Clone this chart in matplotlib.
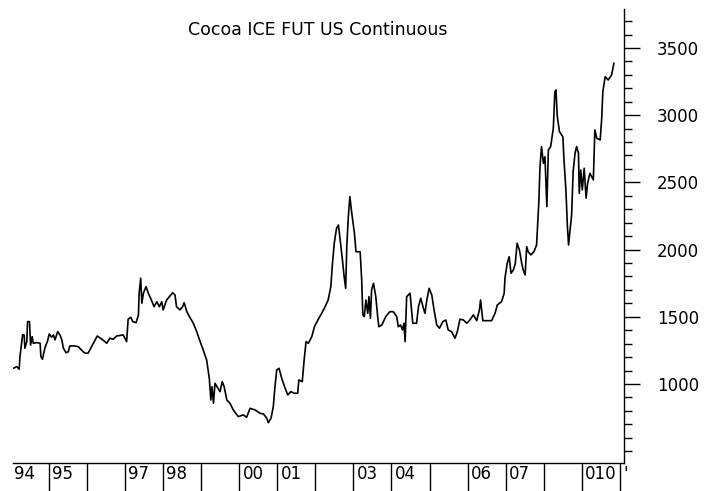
import matplotlib
matplotlib.use("Agg")
import matplotlib.pyplot as plt
from matplotlib.ticker import MultipleLocator, FixedLocator

# decimal year / price
years = [
    1994.08, 1994.17, 1994.23, 1994.25, 1994.32, 1994.36, 1994.38, 1994.43, 1994.45, 1994.50,
    1994.53, 1994.57, 1994.60, 1994.69, 1994.78, 1994.80, 1994.84, 1994.91, 1994.97, 1995.02,
    1995.08, 1995.13, 1995.17, 1995.24, 1995.30, 1995.35, 1995.39, 1995.46, 1995.52, 1995.56,
    1995.67, 1995.78, 1995.91, 1995.96, 1996.04, 1996.13, 1996.28, 1996.40, 1996.53, 1996.61,
    1996.70, 1996.79, 1996.96, 1997.05, 1997.09, 1997.16, 1997.21, 1997.30, 1997.36, 1997.38,
    1997.42, 1997.45, 1997.49, 1997.56, 1997.62, 1997.68, 1997.77, 1997.84, 1997.91, 1997.97,
    1998.01, 1998.10, 1998.26, 1998.32, 1998.36, 1998.45, 1998.52, 1998.56, 1998.63, 1998.71,
    1998.80, 1998.89, 1998.98, 1999.06, 1999.15, 1999.22, 1999.26, 1999.29, 1999.33, 1999.37,
    1999.50, 1999.56, 1999.61, 1999.68, 1999.76, 1999.85, 1999.98, 2000.11, 2000.20, 2000.29,
    2000.42, 2000.55, 2000.64, 2000.73, 2000.77, 2000.84, 2000.90, 2000.94, 2000.99, 2001.05,
    2001.12, 2001.21, 2001.28, 2001.36, 2001.45, 2001.54, 2001.57, 2001.66, 2001.71, 2001.76,
    2001.82, 2001.91, 2001.98, 2002.07, 2002.17, 2002.26, 2002.34, 2002.41, 2002.45, 2002.50,
    2002.56, 2002.61, 2002.65, 2002.71, 2002.76, 2002.80, 2002.83, 2002.87, 2002.91, 2002.96,
    2003.03, 2003.07, 2003.18, 2003.22, 2003.25, 2003.29, 2003.33, 2003.38, 2003.41, 2003.45,
    2003.48, 2003.53, 2003.59, 2003.64, 2003.67, 2003.75, 2003.85, 2003.96, 2004.05, 2004.14,
    2004.18, 2004.24, 2004.29, 2004.33, 2004.36, 2004.40, 2004.49, 2004.53, 2004.56, 2004.66,
    2004.71, 2004.77, 2004.84, 2004.88, 2004.93, 2004.99, 2005.06, 2005.12, 2005.19, 2005.26,
    2005.35, 2005.43, 2005.49, 2005.58, 2005.67, 2005.73, 2005.80, 2005.89, 2005.98, 2006.06,
    2006.15, 2006.24, 2006.31, 2006.34, 2006.40, 2006.50, 2006.63, 2006.72, 2006.78, 2006.89,
    2006.96, 2006.98, 2007.04, 2007.09, 2007.14, 2007.20, 2007.25, 2007.30, 2007.36, 2007.42,
    2007.46, 2007.51, 2007.55, 2007.59, 2007.66, 2007.74, 2007.81, 2007.87, 2007.90, 2007.94,
    2007.99, 2008.03, 2008.08, 2008.12, 2008.18, 2008.25, 2008.29, 2008.32, 2008.35, 2008.41,
    2008.50, 2008.53, 2008.58, 2008.62, 2008.65, 2008.69, 2008.73, 2008.77, 2008.82, 2008.86,
    2008.91, 2008.93, 2008.97, 2009.01, 2009.06, 2009.11, 2009.15, 2009.21, 2009.30, 2009.34,
    2009.39, 2009.48, 2009.52, 2009.55, 2009.61, 2009.69, 2009.78, 2009.84,
]
prices = [
    1117, 1129, 1110, 1203, 1365, 1365, 1266, 1315, 1464, 1464,
    1290, 1352, 1303, 1308, 1303, 1203, 1184, 1273, 1315, 1372,
    1348, 1365, 1328, 1389, 1365, 1328, 1266, 1233, 1240, 1283,
    1283, 1278, 1240, 1229, 1229, 1278, 1357, 1333, 1303, 1340,
    1333, 1357, 1365, 1315, 1482, 1496, 1464, 1456, 1514, 1679,
    1787, 1601, 1675, 1724, 1675, 1638, 1575, 1612, 1575, 1612,
    1551, 1625, 1679, 1662, 1575, 1551, 1575, 1605, 1538, 1496,
    1452, 1389, 1315, 1253, 1179, 1043, 881, 980, 857, 1005,
    943, 1017, 980, 881, 857, 807, 757, 770, 752, 819,
    807, 782, 777, 745, 712, 745, 831, 968, 1104, 1117,
    1043, 968, 918, 943, 931, 931, 1030, 1017, 1179, 1315,
    1303, 1352, 1426, 1476, 1526, 1575, 1625, 1724, 1886, 2047,
    2159, 2183, 2084, 1935, 1798, 1712, 2034, 2245, 2394, 2270,
    2121, 1984, 1984, 1774, 1514, 1501, 1625, 1526, 1650, 1489,
    1700, 1749, 1650, 1501, 1426, 1439, 1501, 1538, 1538, 1501,
    1426, 1439, 1402, 1452, 1315, 1650, 1675, 1551, 1452, 1452,
    1575, 1638, 1563, 1526, 1625, 1712, 1662, 1551, 1439, 1415,
    1464, 1476, 1402, 1389, 1340, 1389, 1482, 1476, 1452, 1476,
    1514, 1471, 1551, 1625, 1471, 1471, 1471, 1526, 1588, 1612,
    1675, 1787, 1898, 1947, 1824, 1848, 1893, 2047, 1997, 1898,
    1848, 1811, 2022, 1984, 1960, 1984, 2034, 2356, 2617, 2766,
    2642, 2691, 2319, 2741, 2766, 2903, 3175, 3188, 3002, 2877,
    2840, 2667, 2444, 2170, 2034, 2146, 2258, 2580, 2717, 2766,
    2717, 2419, 2592, 2444, 2605, 2382, 2493, 2568, 2518, 2890,
    2828, 2816, 2977, 3175, 3286, 3262, 3299, 3386,
]

year_ticks = list(range(1995, 2011))
label_years = list(range(1994, 2011))
year_labels = ['94', '95', '', '97', '98', '', '00', '01', '', '03', '04', '',
               '06', '07', '', '010', "'"]
price_ticks = [1000, 1500, 2000, 2500, 3000, 3500]

plt.rcParams['font.family'] = ['DejaVu Sans']

fig = plt.figure(figsize=(7.22, 4.91), dpi=100)
ax = fig.add_axes([13 / 722, 28 / 491, 611 / 722, 454 / 491])

ax.plot(years, prices, color='black', linewidth=1.2)

ax.set_xlim(1994.068, 2010.105)
ax.set_ylim(412, 3790)

for side in ('left', 'top'):
    ax.spines[side].set_visible(False)
for side in ('right', 'bottom'):
    ax.spines[side].set_linewidth(1.0)

# y axis on the right
ax.yaxis.tick_right()
ax.yaxis.set_major_locator(FixedLocator(price_ticks))
ax.yaxis.set_minor_locator(MultipleLocator(100))
ax.tick_params(axis='y', which='major', direction='out', length=11.5, width=1.0,
               pad=12, labelsize=12)
ax.tick_params(axis='y', which='minor', direction='out', length=5.8, width=1.0)

# x axis: year dividers going down, labels just right of each divider
ax.xaxis.set_major_locator(FixedLocator(year_ticks))
ax.tick_params(axis='x', which='major', direction='out', length=22, width=1.0,
               labelbottom=False)
trans = ax.get_xaxis_transform()
for yr, lab in zip(label_years, year_labels):
    if lab:
        ax.annotate(lab, xy=(yr, 0), xycoords=trans, xytext=(2.5, -1.5),
                    textcoords='offset points', ha='left', va='top',
                    fontsize=12, annotation_clip=False)

fig.text(318 / 722, 1 - 30 / 491, 'Cocoa ICE FUT US Continuous',
         ha='center', va='center', fontsize=12.5)

fig.savefig('out.png', dpi=100)
